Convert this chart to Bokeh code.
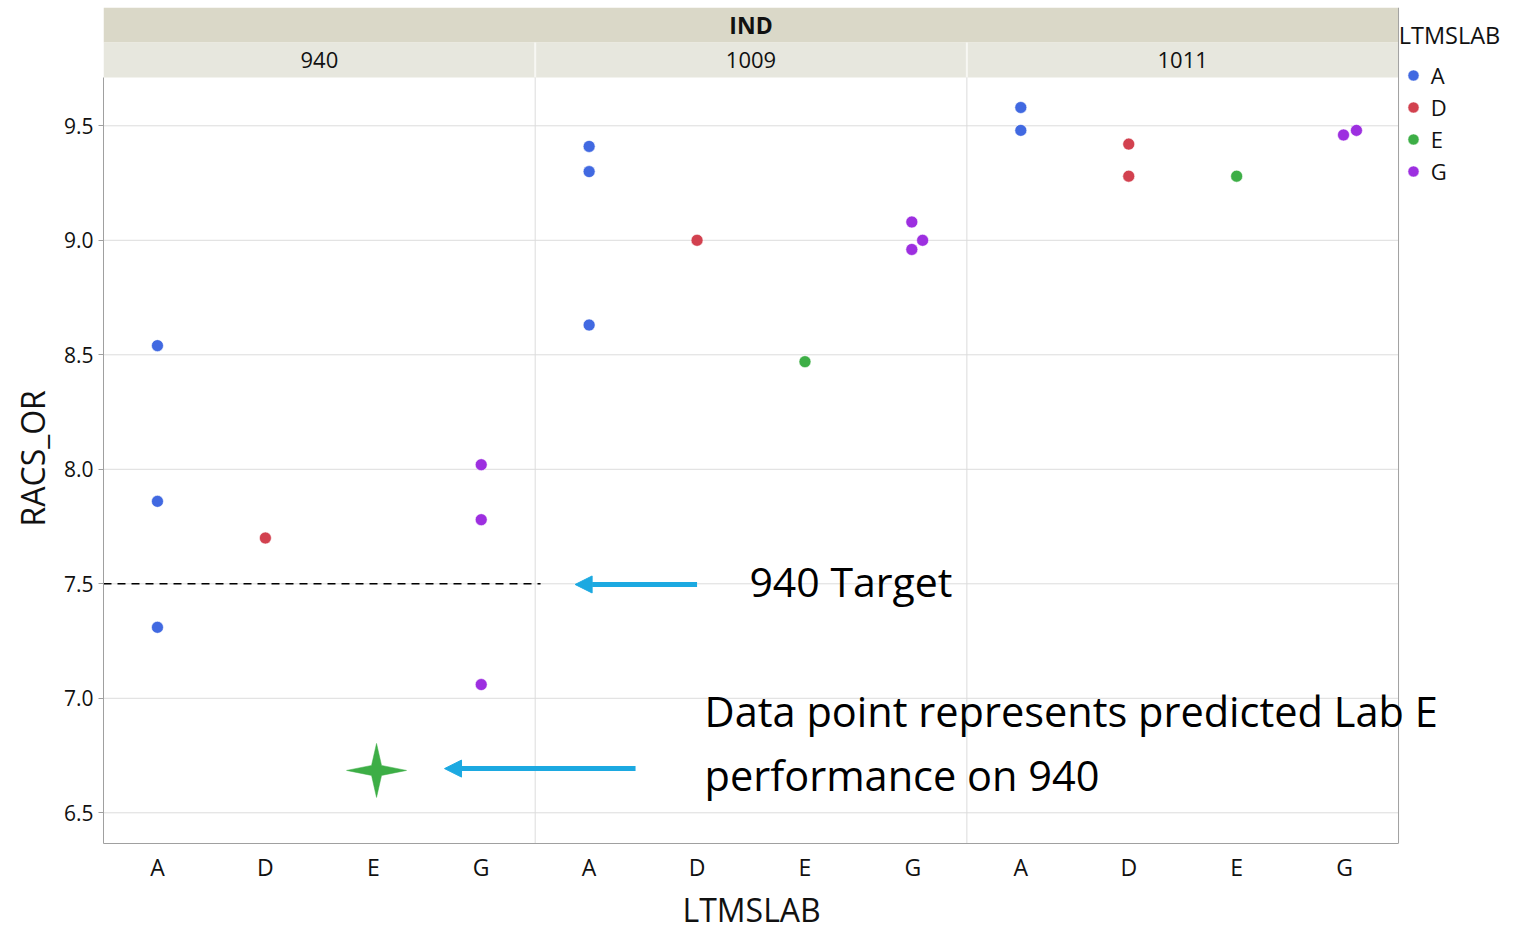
from bokeh.plotting import figure
from bokeh.models import (FixedTicker, Legend, LegendItem, Arrow, NormalHead,
                          Label, Range1d, ColumnDataSource, Title)
from bokeh.embed import file_html
from bokeh.resources import INLINE

# ---------------- data ----------------
panels = ["940", "1009", "1011"]
labs = ["A", "D", "E", "G"]

obs_panel = ["940"] * 7 + ["1009"] * 8 + ["1011"] * 7
obs_lab = ["A", "A", "A", "D", "G", "G", "G",
           "A", "A", "A", "D", "E", "G", "G", "G",
           "A", "A", "D", "D", "E", "G", "G"]
obs_value = [8.54, 7.86, 7.31, 7.70, 8.02, 7.78, 7.06,
             9.41, 9.30, 8.63, 9.00, 8.47, 9.08, 8.96, 9.00,
             9.58, 9.48, 9.42, 9.28, 9.28, 9.46, 9.48]
obs_jitter = [0, 0, 0, 0, 0, 0, 0,
              0, 0, 0, 0, 0, -0.01, -0.01, 0.09,
              0, 0, 0, 0, 0, -0.01, 0.11]

y_ticks = [6.5, 7.0, 7.5, 8.0, 8.5, 9.0, 9.5]

target_panel = "940"
target_value = 7.5

pred_panel = "940"
pred_lab = "E"
pred_value = 6.685

lab_colors = {"A": "#4169E1", "D": "#D2414F", "E": "#3DAE46", "G": "#9D2FE0"}

# ---------------- layout constants ----------------
FONT = "Open Sans"
Y_BOTTOM = 6.3659
DATA_TOP = 9.711
BAND_SPLIT = 9.864
Y_TOP = 10.0166
PX_PER_X = 107.92
PX_PER_Y = 229.0
FRAME_W = 1405
FRAME_H = 836
X_END = FRAME_W / PX_PER_X

NP = len(panels)
NL = len(labs)
XMAX = NP * NL


def xpos(panel, lab, jit=0.0):
    return panels.index(panel) * NL + labs.index(lab) + 0.5 + jit


p = figure(frame_width=FRAME_W, frame_height=FRAME_H,
           x_range=Range1d(0, X_END), y_range=Range1d(Y_BOTTOM, Y_TOP),
           output_backend="svg", toolbar_location=None,
           min_border_left=103, min_border_top=7, min_border_bottom=0,
           min_border_right=0)
p.outline_line_color = None
p.background_fill_color = "white"

# header bands
p.quad(left=[0], right=[XMAX], bottom=[BAND_SPLIT], top=[Y_TOP],
       fill_color="#DAD8C8", line_color=None)
p.quad(left=[i * NL for i in range(NP)], right=[(i + 1) * NL for i in range(NP)],
       bottom=[DATA_TOP] * NP, top=[BAND_SPLIT] * NP,
       fill_color="#E7E7DE", line_color=None)
p.segment(x0=[i * NL for i in range(1, NP)], y0=[DATA_TOP] * (NP - 1),
          x1=[i * NL for i in range(1, NP)], y1=[BAND_SPLIT] * (NP - 1),
          line_color="#F7F7F3", line_width=2)

p.text(x=[XMAX / 2], y=[(BAND_SPLIT + Y_TOP) / 2], text=["IND"],
       text_font={"value": FONT}, text_font_size="23px", text_font_style="bold",
       text_align="center", text_baseline="middle", text_color="#111111")
p.text(x=[i * NL + NL / 2 for i in range(NP)],
       y=[(DATA_TOP + BAND_SPLIT) / 2] * NP, text=panels,
       text_font={"value": FONT}, text_font_size="22px",
       text_align="center", text_baseline="middle", text_color="#111111")

# grid lines (only across the panels)
p.xgrid.visible = False
p.ygrid.visible = False
p.segment(x0=[0] * len(y_ticks), y0=y_ticks, x1=[XMAX] * len(y_ticks), y1=y_ticks,
          line_color="#DCDCDC", line_width=1)
# panel separators in data area
p.segment(x0=[i * NL for i in range(1, NP)], y0=[Y_BOTTOM] * (NP - 1),
          x1=[i * NL for i in range(1, NP)], y1=[DATA_TOP] * (NP - 1),
          line_color="#DCDCDC", line_width=1)
# right border
p.segment(x0=[XMAX], y0=[Y_BOTTOM], x1=[XMAX], y1=[Y_TOP],
          line_color="#A0A0A0", line_width=1)

# axes
tick_pos = [i + 0.5 for i in range(XMAX)]
p.xaxis.ticker = FixedTicker(ticks=tick_pos)
p.xaxis.major_label_overrides = {t: labs[i % NL] for i, t in enumerate(tick_pos)}
p.xaxis.bounds = (0, XMAX)
p.xaxis.major_tick_line_color = None
p.xaxis.major_tick_out = 0
p.xaxis.major_tick_in = 0
p.xaxis.minor_tick_line_color = None
p.xaxis.minor_tick_out = 0
p.xaxis.axis_line_color = "#A0A0A0"
p.xaxis.major_label_text_font = FONT
p.xaxis.major_label_text_font_size = "23px"
p.xaxis.major_label_text_color = "#111111"
p.xaxis.major_label_standoff = 7

p.yaxis.ticker = FixedTicker(ticks=y_ticks)
p.yaxis.major_label_overrides = {v: f"{v:.1f}" for v in y_ticks}
p.yaxis.bounds = (Y_BOTTOM, DATA_TOP)
p.yaxis.axis_line_color = "#A0A0A0"
p.yaxis.major_tick_line_color = "#A0A0A0"
p.yaxis.major_tick_in = 0
p.yaxis.major_tick_out = 5
p.yaxis.minor_tick_line_color = None
p.yaxis.major_label_text_font = FONT
p.yaxis.major_label_text_font_size = "21px"
p.yaxis.major_label_text_color = "#111111"
p.yaxis.major_label_standoff = 5

# axis titles, positioned over the panel area (not the legend strip)
p.add_layout(Title(text="LTMSLAB", align="left", offset=579, standoff=1,
                   text_font=FONT, text_font_size="32px", text_font_style="normal",
                   text_color="#111111"), "below")
p.add_layout(Title(text="RACS_OR", align="left", offset=317, standoff=14,
                   text_font=FONT, text_font_size="32px", text_font_style="normal",
                   text_color="#111111"), "left")

# target line
ti = panels.index(target_panel)
p.segment(x0=[ti * NL], y0=[target_value], x1=[(ti + 1) * NL + 0.05], y1=[target_value],
          line_color="black", line_width=1.5, line_dash="8 6")

# points
items = []
for lab in labs:
    idx = [i for i, l in enumerate(obs_lab) if l == lab]
    src = ColumnDataSource(dict(
        x=[xpos(obs_panel[i], obs_lab[i], obs_jitter[i]) for i in idx],
        y=[obs_value[i] for i in idx]))
    r = p.scatter("x", "y", source=src, size=12, fill_color=lab_colors[lab],
                  line_color="white", line_width=0.6)
    items.append(LegendItem(label=lab, renderers=[r]))

# predicted star (4-point)
cx = xpos(pred_panel, pred_lab, 0.03)
cy = pred_value
star_px = [(30, 0), (5, 5), (0, 27), (-5, 5), (-30, 0), (-5, -5), (0, -27), (5, -5)]
p.patch(x=[cx + dx / PX_PER_X for dx, dy in star_px],
        y=[cy + dy / PX_PER_Y for dx, dy in star_px],
        fill_color="#3DAE46", line_color="#3DAE46", line_width=0.5)

# arrows
ARROW_C = "#1CA9E1"
p.add_layout(Arrow(end=NormalHead(size=17, fill_color=ARROW_C, line_color=ARROW_C),
                   x_start=5.50, y_start=7.497, x_end=4.37, y_end=7.497,
                   line_color=ARROW_C, line_width=5))
p.add_layout(Arrow(end=NormalHead(size=17, fill_color=ARROW_C, line_color=ARROW_C),
                   x_start=4.93, y_start=6.693, x_end=3.16, y_end=6.693,
                   line_color=ARROW_C, line_width=5))

# annotation text
p.add_layout(Label(x=5.985, y=7.514, text="940 Target", text_font=FONT,
                   text_font_size="41px", text_color="black",
                   text_baseline="alphabetic"))
p.add_layout(Label(x=5.57, y=6.946, text="Data point represents predicted Lab E",
                   text_font=FONT, text_font_size="41.5px", text_color="black",
                   text_baseline="alphabetic"))
p.add_layout(Label(x=5.57, y=6.663, text="performance on 940",
                   text_font=FONT, text_font_size="41.5px", text_color="black",
                   text_baseline="alphabetic"))

legend = Legend(items=items, title="LTMSLAB", location=(1295.7, 656),
                border_line_color=None, background_fill_alpha=0,
                title_text_font=FONT, title_text_font_size="23.5px",
                title_text_font_style="normal", title_text_color="#111111",
                label_text_font=FONT, label_text_font_size="22px",
                label_text_color="#111111",
                glyph_width=28, glyph_height=28, label_height=32,
                label_standoff=4, spacing=0, padding=0, margin=0,
                title_standoff=8)
p.add_layout(legend)

open("out.html", "w").write(file_html(p, INLINE))
